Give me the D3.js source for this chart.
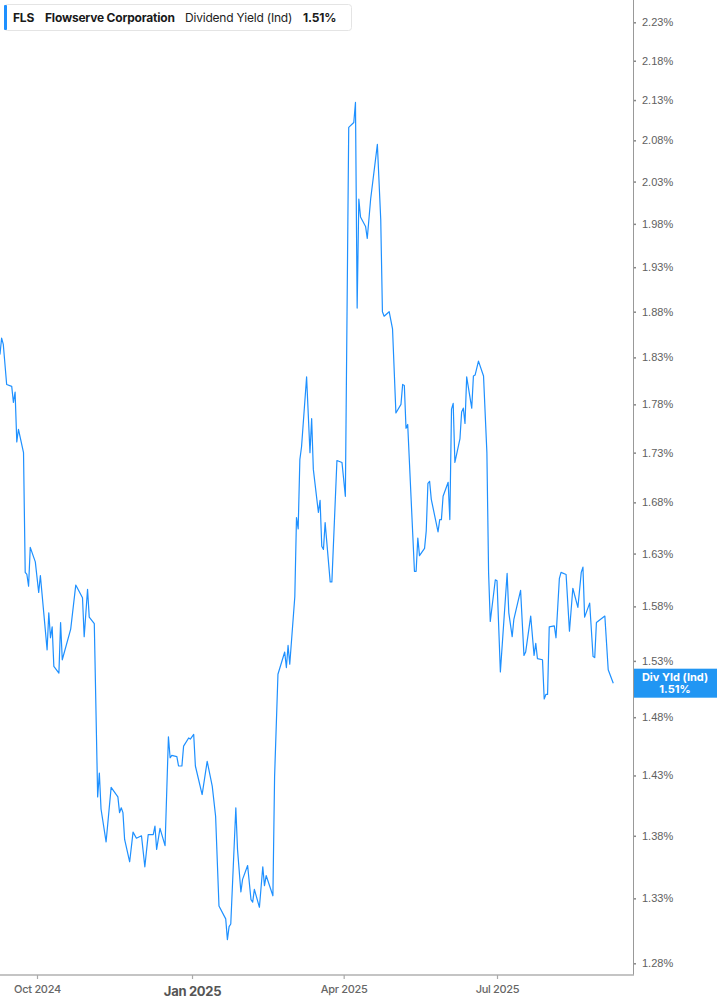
<!DOCTYPE html>
<html>
<head>
<meta charset="utf-8">
<script src="https://cdn.jsdelivr.net/npm/d3@7"></script>
<style>
  html, body { margin: 0; padding: 0; background: #fff; }
  svg { display: block; }
</style>
</head>
<body>
<svg id="chart" width="717" height="1005"></svg>
<script>
// ---- Data ----
const ticker = "FLS";
const company = "Flowserve Corporation";
const metric = "Dividend Yield (Ind)";
const metricShort = "Div Yld (Ind)";

const dates = [
"2024-09-09","2024-09-10","2024-09-11","2024-09-13","2024-09-16","2024-09-17","2024-09-18","2024-09-19","2024-09-20","2024-09-23",
"2024-09-24","2024-09-25","2024-09-26","2024-09-27","2024-09-30","2024-10-02","2024-10-03","2024-10-07","2024-10-08","2024-10-09",
"2024-10-10","2024-10-11","2024-10-14","2024-10-15","2024-10-16","2024-10-21","2024-10-24","2024-10-28","2024-10-29","2024-10-31",
"2024-11-01","2024-11-04","2024-11-06","2024-11-07","2024-11-08","2024-11-11","2024-11-14","2024-11-18","2024-11-19","2024-11-20",
"2024-11-21","2024-11-22","2024-11-25","2024-11-27","2024-11-29","2024-12-02","2024-12-04","2024-12-06","2024-12-09","2024-12-10",
"2024-12-11","2024-12-13","2024-12-16","2024-12-18","2024-12-19","2024-12-20","2024-12-23","2024-12-24","2024-12-26","2024-12-27",
"2024-12-30","2024-12-31","2025-01-02","2025-01-03","2025-01-07","2025-01-10","2025-01-13","2025-01-15","2025-01-17","2025-01-21",
"2025-01-22","2025-01-23","2025-01-24","2025-01-27","2025-01-28","2025-01-30","2025-01-31","2025-02-03","2025-02-05","2025-02-06",
"2025-02-07","2025-02-10","2025-02-12","2025-02-13","2025-02-14","2025-02-18","2025-02-19","2025-02-21","2025-02-25","2025-02-26",
"2025-02-27","2025-02-28","2025-03-03","2025-03-04","2025-03-05","2025-03-06","2025-03-07","2025-03-10","2025-03-12","2025-03-13",
"2025-03-14","2025-03-17","2025-03-18","2025-03-19","2025-03-20","2025-03-21","2025-03-24","2025-03-25","2025-03-28","2025-03-31",
"2025-04-02","2025-04-04","2025-04-07","2025-04-08","2025-04-09","2025-04-10","2025-04-11","2025-04-14","2025-04-15","2025-04-17",
"2025-04-21","2025-04-23","2025-04-24","2025-04-25","2025-04-28","2025-04-30","2025-05-02","2025-05-05","2025-05-06","2025-05-07",
"2025-05-08","2025-05-09","2025-05-13","2025-05-14","2025-05-15","2025-05-16","2025-05-19","2025-05-20","2025-05-21","2025-05-22",
"2025-05-23","2025-05-27","2025-05-28","2025-05-29","2025-05-30","2025-06-02","2025-06-03","2025-06-04","2025-06-05","2025-06-06",
"2025-06-09","2025-06-10","2025-06-11","2025-06-12","2025-06-13","2025-06-16","2025-06-17","2025-06-18","2025-06-20","2025-06-23",
"2025-06-25","2025-06-26","2025-06-27","2025-06-30","2025-07-01","2025-07-03","2025-07-07","2025-07-08","2025-07-10","2025-07-11",
"2025-07-15","2025-07-17","2025-07-18","2025-07-21","2025-07-23","2025-07-24","2025-07-25","2025-07-28","2025-07-29","2025-07-30",
"2025-07-31","2025-08-01","2025-08-04","2025-08-05","2025-08-07","2025-08-08","2025-08-11","2025-08-13","2025-08-15","2025-08-18",
"2025-08-20","2025-08-21","2025-08-22","2025-08-25","2025-08-27","2025-08-28","2025-08-29","2025-09-03","2025-09-05","2025-09-08"
];

const yields = [
1.833,1.851,1.844,1.801,1.799,1.782,1.793,1.741,1.754,1.730,
1.612,1.610,1.599,1.636,1.622,1.593,1.609,1.540,1.574,1.551,
1.561,1.525,1.519,1.565,1.531,1.559,1.600,1.588,1.552,1.596,
1.570,1.564,1.412,1.432,1.402,1.375,1.420,1.412,1.399,1.403,
1.399,1.377,1.359,1.383,1.378,1.380,1.355,1.381,1.381,1.388,
1.369,1.386,1.372,1.463,1.445,1.447,1.446,1.438,1.438,1.455,
1.462,1.461,1.465,1.438,1.414,1.442,1.421,1.396,1.324,1.314,
1.298,1.308,1.310,1.403,1.369,1.335,1.345,1.356,1.329,1.327,
1.337,1.323,1.355,1.340,1.348,1.332,1.429,1.518,1.538,1.524,
1.544,1.527,1.589,1.665,1.654,1.723,1.736,1.809,1.730,1.765,
1.713,1.670,1.682,1.637,1.634,1.660,1.603,1.603,1.722,1.720,
1.686,2.096,2.102,2.127,1.884,2.009,1.988,1.977,1.963,2.009,
2.075,1.985,1.880,1.875,1.880,1.861,1.771,1.780,1.801,1.800,
1.755,1.759,1.613,1.613,1.645,1.628,1.635,1.652,1.699,1.701,
1.683,1.651,1.663,1.663,1.686,1.700,1.663,1.775,1.781,1.720,
1.744,1.772,1.776,1.760,1.809,1.776,1.810,1.811,1.826,1.810,
1.730,1.612,1.566,1.605,1.604,1.520,1.611,1.574,1.552,1.568,
1.595,1.535,1.538,1.571,1.535,1.546,1.532,1.531,1.496,1.500,
1.500,1.561,1.562,1.551,1.606,1.612,1.610,1.557,1.597,1.579,
1.612,1.617,1.570,1.583,1.534,1.533,1.565,1.571,1.522,1.510
];

const yTickValues = [1.28,1.33,1.38,1.43,1.48,1.53,1.58,1.63,1.68,1.73,1.78,1.83,1.88,1.93,1.98,2.03,2.08,2.13,2.18,2.23];
const xTickDates = ["2024-10-01","2025-01-01","2025-04-01","2025-07-01"];
const xTickLabels = ["Oct 2024","Jan 2025","Apr 2025","Jul 2025"];
const xTickYearStart = [false, true, false, false];

// ---- Layout ----
const W = 717, H = 1005;
const plot = { left: 0, right: 633, top: 0, bottom: 975 };
const lineColor = "#1e90ff";
const labelColor = "#2196f3";

const parse = d3.utcParse("%Y-%m-%d");
const data = dates.map((d, i) => ({ date: parse(d), value: yields[i] }));

const x = d3.scaleUtc()
  .domain([new Date(Date.UTC(2024, 8, 9, 1)), new Date(Date.UTC(2025, 8, 19, 17))])
  .range([plot.left, plot.right]);

// log scale anchored on the outer tick values
const y = d3.scaleLog()
  .domain([1.28, 2.23])
  .range([963.3, 22.3]);

const svg = d3.select("#chart");

// line
const line = d3.line().x(d => x(d.date)).y(d => y(d.value));
svg.append("path")
  .datum(data)
  .attr("fill", "none")
  .attr("stroke", lineColor)
  .attr("stroke-width", 1.2)
  .attr("stroke-linejoin", "round")
  .attr("d", line);

// y axis (right)
const yAxisG = svg.append("g")
  .attr("transform", `translate(${plot.right},0)`)
  .call(d3.axisRight(y).tickValues(yTickValues).tickSize(3).tickPadding(6)
    .tickFormat(v => v.toFixed(2) + "%"));
yAxisG.select(".domain").remove();
yAxisG.selectAll(".tick line").attr("stroke", "#888").attr("stroke-width", 1.5);
yAxisG.selectAll(".tick text")
  .attr("fill", "#606060")
  .attr("font-family", "'Liberation Sans', Arial, sans-serif")
  .attr("font-size", 11);
svg.append("line")
  .attr("x1", plot.right + 0.5).attr("x2", plot.right + 0.5)
  .attr("y1", 0).attr("y2", plot.bottom)
  .attr("stroke", "#999").attr("stroke-width", 1);

// x axis
const xAxisG = svg.append("g")
  .attr("transform", `translate(0,${plot.bottom})`)
  .call(d3.axisBottom(x).tickValues(xTickDates.map(parse)).tickSize(4).tickPadding(6)
    .tickFormat((d, i) => xTickLabels[i]));
xAxisG.select(".domain")
  .attr("stroke", "#b0b0b0").attr("stroke-width", 1.6)
  .attr("d", `M${plot.left},0H${plot.right + 1}`);
xAxisG.selectAll(".tick line").attr("stroke", "#aaa").attr("stroke-width", 1.2);
xAxisG.selectAll(".tick text")
  .attr("font-family", "Inter, Roboto, sans-serif")
  .attr("fill", (d, i) => xTickYearStart[i] ? "#555" : "#666")
  .attr("font-weight", (d, i) => xTickYearStart[i] ? 700 : 500)
  .attr("font-size", (d, i) => xTickYearStart[i] ? 13 : 11)
  .attr("dy", (d, i) => xTickYearStart[i] ? "0.85em" : "0.71em")
  .attr("letter-spacing", "-0.3");

// end label
const last = data[data.length - 1];
const ly = y(last.value);
const lab = svg.append("g");
lab.append("rect")
  .attr("x", plot.right + 1).attr("y", ly - 14.5)
  .attr("width", W - plot.right - 1).attr("height", 29)
  .attr("fill", labelColor);
lab.append("text")
  .attr("x", (plot.right + W) / 2).attr("y", ly - 2.5)
  .attr("text-anchor", "middle").attr("fill", "#fff")
  .attr("font-family", "Inter, Roboto, sans-serif").attr("font-weight", 700).attr("font-size", 11)
  .text(metricShort);
lab.append("text")
  .attr("x", (plot.right + W) / 2).attr("y", ly + 9.5)
  .attr("text-anchor", "middle").attr("fill", "#fff")
  .attr("font-family", "Inter, Roboto, sans-serif").attr("font-weight", 700).attr("font-size", 11)
  .text(last.value.toFixed(2) + "%");

// header legend box
const hdr = svg.append("g");
hdr.append("rect")
  .attr("x", 4.5).attr("y", 4.5).attr("width", 347).attr("height", 26).attr("rx", 3)
  .attr("fill", "#fff").attr("stroke", "#e4e4e4");
hdr.append("rect")
  .attr("x", 4).attr("y", 5).attr("width", 3).attr("height", 25).attr("rx", 1)
  .attr("fill", lineColor);
const hText = [
  { t: ticker, x: 13, w: 700, c: "#1a1a1a" },
  { t: company, x: 45, w: 700, c: "#1a1a1a" },
  { t: metric, x: 185, w: 400, c: "#222" },
  { t: last.value.toFixed(2) + "%", x: 303, w: 700, c: "#1a1a1a" }
];
hdr.selectAll("text.h").data(hText).enter().append("text")
  .attr("class", "h")
  .attr("x", d => d.x).attr("y", 21.5)
  .attr("font-family", "Inter, Roboto, sans-serif")
  .attr("font-size", 12)
  .attr("font-weight", d => d.w)
  .attr("letter-spacing", "-0.2")
  .attr("fill", d => d.c)
  .text(d => d.t);
</script>
</body>
</html>
